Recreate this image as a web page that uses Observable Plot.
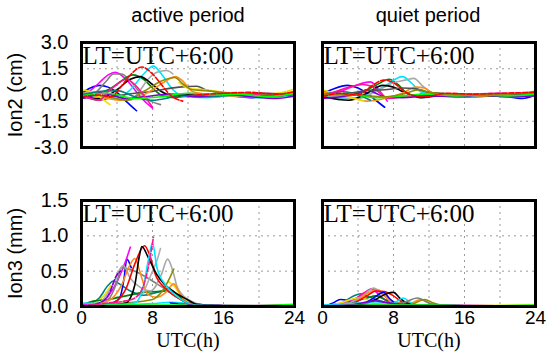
<!DOCTYPE html>
<html>
<head>
<meta charset="utf-8">
<script src="https://cdn.jsdelivr.net/npm/d3@7"></script>
<script src="https://cdn.jsdelivr.net/npm/@observablehq/plot@0.6"></script>
<style>
  html, body { margin: 0; padding: 0; background: #fff; }
  #wrap { position: relative; width: 550px; height: 353px; overflow: hidden; background: #fff; }
  .panel { position: absolute; }
  .ttl { position: absolute; font-family: "Liberation Sans", Arial, sans-serif; font-size: 20px; color: #000; transform: translateX(-50%); white-space: nowrap; }
</style>
</head>
<body>
<div id="wrap">
  <div class="ttl" style="left:188px; top:4px;">active period</div>
  <div class="ttl" style="left:428px; top:4px;">quiet period</div>
</div>
<script>
// ---- data (hour, value pairs; null value = gap) ----
const xTicks = [0, 8, 16, 24];
const xGrid = [4, 8, 12, 16, 20];
const ion2Ticks = [3, 1.5, 0, -1.5, -3];
const ion2Grid = [1.5, -1.5];
const ion3Ticks = [1.5, 1.0, 0.5, 0.0];
const ion3Grid = [0.5, 1.0];
const periods = ["active period", "quiet period"];
const zoneLabel = "LT=UTC+6:00";

const activeIon2 = [
  ["blue",       [0,0.1, 1,0.4, 2,0.55, 3,0.45, 4,0.15, 5,-0.35, 6.2,-0.9, 6.3,null, 11,-0.1, 13,-0.05, 16,0.0, 19,-0.15, 22,0.0, 24,0.1]],
  ["magenta",    [0,0.0, 1,0.25, 2,0.7, 3,1.15, 3.8,1.3, 5,0.9, 6,0.3, 7,-0.3, 8,-0.75, 8.1,null, 12,-0.1, 15,0.05, 18,-0.1, 21,0.1, 24,0.0]],
  ["gray",       [0,-0.2, 1.5,0.1, 2.8,0.8, 3.6,1.2, 4.5,1.2, 5.5,0.8, 6.5,0.2, 7.8,-0.35, 8.9,-0.55]],
  ["red",        [0,-0.1, 2,0.0, 3.3,-0.1, 4.5,0.5, 5.6,1.2, 6.8,1.6, 8,1.2, 9,0.6, 10,0.0, 11.4,-0.35, 11.5,null, 13,0.0, 16,0.1, 19,0.15, 22,0.05, 24,0.2]],
  ["green",      [0,0.2, 1.5,0.1, 3,0.3, 4.5,0.8, 5.8,1.15, 7,0.9, 8,0.4, 9,0.0, 10.5,-0.15, 12,0.0, 15,-0.1, 18,0.05, 21,-0.1, 24,0.0]],
  ["cyan",       [0,0.0, 2,-0.1, 4,-0.2, 5.5,0.3, 7,1.2, 8.1,1.65, 9,1.2, 10.3,0.3, 11.5,-0.05, 14,-0.15, 17,-0.05, 20,-0.15, 24,-0.1]],
  ["silver",     [0,0.1, 2,0.2, 4,-0.1, 5.5,-0.3, 6.5,0.2, 7.5,0.9, 8.5,1.3, 9.6,1.4, 10.3,1.2, 10.4,null, 13,0.0, 16,0.05, 20,-0.05, 24,0.05]],
  ["black",      [0,-0.1, 2,-0.2, 4,0.3, 5.5,0.9, 6.6,1.05, 8,0.6, 9,0.2, 10.4,-0.05, 12,0.05, 15,0.0, 18,0.1, 21,0.0, 24,0.05]],
  ["dimgray",    [0,0.0, 2,-0.3, 4,-0.05, 6,0.1, 8,0.2, 9,0.3, 11,0.45, 13,0.5, 14,0.3, 16,0.1, 19,0.0, 22,-0.05, 24,0.1]],
  ["darkorange", [0,0.1, 2,-0.1, 4.5,-0.3, 6.6,-0.1, 8,0.3, 9.5,0.8, 10.6,1.05, 11.3,0.85, 12.5,0.2, 14,0.05, 17,-0.05, 20,0.0, 24,0.15]],
  ["yellow",     [0,0.3, 1,0.2, 2,-0.1, 3.2,-0.55, 3.3,null, 11,0.7, 12.3,0.35, 14,0.3, 16,0.15, 19,0.05, 22,0.1, 24,0.35]],
  ["olive",      [0,0.1, 3,-0.1, 5,-0.3, 7,0.2, 9,0.8, 10.5,1.0, 11.5,0.6, 12.5,0.3, 14,0.25, 17,0.1, 20,0.0, 24,0.1]],
  ["teal",       [0,0.0, 2,0.2, 4,0.25, 6,-0.1, 8,-0.3, 9.5,-0.2, 11,0.0, 14,-0.1, 17,0.0, 20,0.1, 24,0.0]],
  ["darkviolet", [0,-0.2, 1,-0.1, 2,0.1, 3,0.05, 5,-0.2, 7,-0.1, 10,0.05, 13,-0.1, 16,0.05, 19,-0.1, 22,-0.2, 24,-0.05]],
  ["deeppink",   [0,0.0, 1,-0.2, 2,-0.3, 3,0.2, 4,0.6, 5,0.9, 6,0.6, 7,0.0, 8,-0.7, 8.1,null, 12,0.1, 15,0.0, 18,0.1, 21,-0.05, 24,0.0]],
  ["lime",       [0,-0.05, 3,0.1, 6,-0.2, 9,-0.1, 12,0.1, 15,0.0, 18,0.05, 21,-0.1, 24,0.1]]
];

const quietIon2 = [
  ["blue",       [0,0.1, 1,0.3, 2.8,0.55, 4,0.4, 5,0.1, 6,-0.3, 7,-0.7, 7.1,null, 11,-0.05, 14,0.0, 17,-0.1, 20,-0.05, 22.5,-0.2, 24,0.0]],
  ["magenta",    [0,0.0, 2,0.2, 3.5,0.5, 5.4,0.75, 6.5,0.2, 7.3,-0.35, 7.4,null, 11,0.05, 14,-0.05, 17,0.05, 20,0.1, 24,0.0]],
  ["red",        [0,-0.1, 2,0.1, 4,0.0, 5.5,0.5, 6.9,0.85, 8,0.7, 9,0.3, 10,0.0, 11.5,-0.1, 14,0.1, 17,0.05, 20,0.1, 24,0.15]],
  ["green",      [0,0.2, 2,0.0, 4,0.1, 6,0.55, 7.5,0.9, 8.5,0.6, 9.5,0.1, 10.5,-0.05, 13,0.0, 16,-0.1, 19,0.05, 22,-0.05, 24,0.0]],
  ["cyan",       [0,0.0, 3,-0.2, 5,0.0, 7,0.5, 9,1.05, 10,0.7, 11,0.2, 12.5,0.0, 15,-0.1, 18,-0.05, 21,-0.1, 24,-0.05]],
  ["silver",     [0,0.0, 4,-0.2, 6,0.2, 8,0.7, 9.3,0.85, 10.3,0.95, 11.3,0.5, 12.5,0.1, 15,0.0, 18,0.05, 21,0.0, 24,0.05]],
  ["black",      [0,-0.1, 3,-0.3, 5,0.1, 6.8,0.55, 8,0.45, 9,0.2, 10,0.0, 11,-0.15, 13,-0.05, 16,0.0, 19,-0.05, 22,0.05, 24,0.0]],
  ["darkorange", [0,0.15, 3,-0.1, 5,-0.35, 7,-0.2, 9,0.1, 10.5,0.45, 11.5,0.4, 12.5,0.1, 15,0.05, 18,-0.05, 21,0.05, 24,0.1]],
  ["yellow",     [0,0.3, 2,0.0, 3.5,-0.2, 4.6,-0.35, 4.7,null, 12,0.15, 14,0.05, 17,0.0, 20,0.05, 22,0.0, 24,0.25]],
  ["teal",       [0,0.0, 2,0.2, 3.5,0.1, 5.4,-0.3, 5.5,null, 11,0.0, 14,-0.05, 17,0.0, 20,0.05, 24,0.0]],
  ["deeppink",   [0,-0.1, 1.5,0.2, 3,0.45, 4.5,0.6, 5.5,0.5, 6.5,0.1, 7.5,-0.2, 9,-0.1, 12,0.0, 15,0.05, 18,0.0, 21,0.05, 24,0.05]],
  ["darkviolet", [0,-0.2, 2,-0.1, 4,0.1, 5,0.3, 6,0.1, 7,-0.1, 9,-0.15, 12,-0.05, 15,-0.1, 18,0.0, 21,-0.1, 24,-0.05]],
  ["dimgray",    [0,0.0, 3,0.1, 5,0.25, 7,0.3, 9,0.4, 10.5,0.35, 12,0.15, 15,0.05, 18,0.0, 21,0.05, 24,0.0]],
  ["lime",       [0,-0.05, 3,0.05, 6,-0.15, 9,-0.05, 12,0.05, 15,-0.05, 18,0.0, 21,-0.05, 24,0.05]],
  ["olive",      [0,0.05, 4,0.0, 7,-0.1, 9,0.05, 11,0.3, 12,0.15, 14,0.05, 18,0.0, 21,0.05, 24,0.2]]
];

const activeIon3 = [
  ["teal",       [0,0.0, 1,0.03, 2,0.12, 3,0.3, 3.6,0.36, 4.5,0.3, 5.5,0.22, 7,0.16, 8.5,0.2, 9.6,0.22, 10.5,0.15, 12,0.05, 14,0.01, 18,0.01, 24,0.01]],
  ["yellow",     [0,0.0, 1.5,0.05, 2.5,0.15, 3.3,0.3, 3.4,null, 9.8,0.35, 10.5,0.28, 11.2,0.15, 12.5,0.04, 15,0.01, 24,0.0]],
  ["cyan",       [0,0.02, 3,0.04, 6,0.03, 8,0.04, 10,0.06, 11.5,0.05, 13,0.02, 18,0.01, 24,0.01]],
  ["green",      [0,0.02, 1.5,0.08, 3,0.1, 5,0.15, 7,0.2, 9,0.22, 9.7,0.25, 10.5,0.2, 12,0.05, 16,0.01, 24,0.01]],
  ["blue",       [0,0.0, 2,0.02, 3.5,0.05, 4.3,0.12, 4.8,0.4, 5.1,0.67, 5.6,0.55, 5.7,null, 10,0.05, 13,0.02, 18,0.01, 24,0.02]],
  ["darkviolet", [0,0.0, 1,0.02, 2,0.05, 3,0.15, 4,0.45, 4.4,0.5, 4.5,null, 12,0.02, 18,0.01, 24,0.01]],
  ["magenta",    [0,0.02, 2,0.05, 3,0.15, 4,0.35, 5,0.65, 5.5,0.84, 5.6,null, 11,0.04, 14,0.01, 24,0.01]],
  ["gray",       [0,0.0, 3,0.1, 4,0.35, 4.5,0.55, 6,0.5, 7.5,0.4, 8.5,0.32, 10,0.2, 11.5,0.08, 13,0.02, 24,0.01]],
  ["silver",     [0,0.0, 2,0.05, 3.5,0.3, 4.7,0.58, 5.5,0.4, 6.5,0.28, 7.8,0.22, 9,0.45, 9.7,0.67, 10.3,0.5, 10.8,0.27, 12,0.1, 14,0.02, 24,0.01]],
  ["darkorange", [0,0.0, 3,0.08, 4.5,0.3, 5.5,0.6, 6,0.68, 6.8,0.4, 7.4,0.18, 8.5,0.13, 9.5,0.2, 10.4,0.32, 11,0.2, 12,0.05, 14,0.01, 24,0.0]],
  ["olive",      [0,0.0, 5,0.05, 8,0.1, 9,0.2, 10,0.42, 10.4,0.53]],
  ["darkgray",   [7,0.2, 8,0.5, 8.5,0.65, 8.9,0.82]],
  ["red",        [0,0.0, 2,0.02, 3,0.03, 4,0.08, 5,0.25, 6,0.6, 7.1,0.86, 7.7,0.72, 8.3,0.46, 9.5,0.25, 10.9,0.12, 12,0.05, 14,0.01, 18,0.01, 24,0.02]],
  ["black",      [0,0.0, 3,0.02, 5,0.05, 6,0.3, 6.5,0.7, 6.8,0.85, 7.5,0.7, 8.5,0.45, 9.3,0.32, 10.5,0.2, 11.9,0.1, 13,0.03, 16,0.01, 24,0.01]],
  ["cyan",       [0,0.05, 2,0.04, 4,0.03, 6,0.05, 7,0.3, 7.6,0.7, 8,0.9, 8.5,0.55, 9.5,0.3, 10.4,0.18, 11.5,0.08, 13,0.02, 16,0.01, 24,0.0]],
  ["deeppink",   [0,0.0, 3,0.05, 5,0.08, 6,0.12, 7,0.3, 7.6,0.6, 8.1,0.98]],
  ["lime",       [0,0.0, 4,0.02, 8,0.02, 12,0.02, 16,0.01, 20,0.01, 24,0.03]]
];

const quietIon3 = [
  ["blue",       [0,0.0, 1.2,0.05, 2,0.1, 3,0.08, 4,0.04, 5,0.02, 8,0.01, 12,0.01, 24,0.0]],
  ["teal",       [0,0.0, 2,0.04, 3.5,0.15, 4.3,0.18, 5,0.15, 6,0.1, 7.5,0.05, 10,0.02, 14,0.01, 24,0.0]],
  ["magenta",    [0,0.01, 1.5,0.03, 3,0.08, 4.5,0.16, 5.5,0.25, 6.5,0.15, 7.5,0.06, 10,0.02, 24,0.01]],
  ["deeppink",   [0,0.0, 3,0.05, 4.5,0.18, 5.5,0.24, 6.5,0.2, 7.5,0.1, 9,0.03, 13,0.01, 24,0.01]],
  ["green",      [0,0.01, 3,0.05, 5,0.12, 6,0.15, 7,0.1, 9,0.04, 12,0.01, 24,0.01]],
  ["yellow",     [0,0.0, 2,0.05, 4,0.12, 5,0.1, 6,0.04, 9,0.02, 12,0.01, 24,0.02]],
  ["silver",     [0,0.0, 3,0.05, 4.5,0.15, 5.8,0.26, 6.5,0.2, 7.5,0.1, 9,0.04, 12,0.01, 24,0.01]],
  ["darkorange", [0,0.0, 3,0.02, 5,0.18, 6.2,0.24, 7,0.15, 8,0.05, 10,0.05, 11,0.1, 12,0.05, 14,0.01, 24,0.0]],
  ["red",        [0,0.0, 3,0.03, 5,0.15, 6,0.22, 7,0.21, 8,0.15, 9,0.06, 10,0.02, 14,0.01, 24,0.0]],
  ["blue",       [3,0.0, 4.5,0.03, 5.5,0.1, 6.9,0.2, 7.5,0.12, 8.5,0.03, 11,0.01, 24,0.01]],
  ["black",      [0,0.0, 4,0.02, 6,0.1, 7.2,0.18, 8,0.2, 8.7,0.12, 9.5,0.05, 11,0.02, 16,0.01, 24,0.0]],
  ["cyan",       [0,0.02, 2,0.03, 4,0.05, 6,0.05, 8,0.05, 9.1,0.12, 10,0.05, 11,0.02, 16,0.01, 24,0.01]],
  ["gray",       [0,0.0, 6,0.02, 9,0.05, 10.7,0.12, 12,0.05, 13,0.01, 24,0.01]],
  ["olive",      [0,0.0, 8,0.02, 10,0.03, 11.5,0.1, 12.5,0.05, 14,0.01, 24,0.01]],
  ["darkviolet", [0,0.01, 3,0.02, 6,0.08, 7,0.06, 10,0.02, 24,0.01]],
  ["lime",       [0,0.0, 6,0.02, 12,0.02, 18,0.01, 24,0.02]]
];

// series drawn dashed (panel:colour)
const dashedSeries = ["a2:red", "a3:deeppink", "q2:red", "a3:darkviolet"];

// ---- styling ----
const palette = {
  blue: "#0000ff", magenta: "#ff00ff", red: "#ff0000", green: "#008000", cyan: "#00e5ff",
  silver: "#a8a8a8", gray: "#808080", black: "#000000", dimgray: "#505050", darkgray: "#b0b0b0",
  darkorange: "#ff8c1a", yellow: "#f0e000", olive: "#8c8c00", teal: "#008080",
  darkviolet: "#7b00d6", deeppink: "#ff1493", lime: "#00ff00"
};

function toRows(series, key) {
  const out = [];
  series.forEach(([name, flat], i) => {
    for (let k = 0; k < flat.length; k += 2) {
      out.push({s: key + i, c: palette[name], dashed: dashedSeries.includes(key + ":" + name), h: flat[k], v: flat[k + 1]});
    }
  });
  return out;
}

const sans = "'Liberation Sans', Arial, sans-serif";
const serif = "'Liberation Serif', 'Times New Roman', serif";

function panel({series, key, yDomain, yTicks, yGrid, yLabel, left, bottom}) {
  const rows = toRows(series, key);
  const isLeft = left;
  const W = isLeft ? 300 : 250;
  const H = bottom ? 193 : 160;
  const marks = [
    Plot.gridX(xGrid, {stroke: "#9a9a9a", strokeOpacity: 1, strokeDasharray: "2,4", strokeWidth: 1}),
    Plot.gridY(yGrid, {stroke: "#9a9a9a", strokeOpacity: 1, strokeDasharray: "2,4", strokeWidth: 1}),
    Plot.line(rows.filter(d => !d.dashed), {x: "h", y: "v", z: "s", stroke: "c", strokeWidth: 1.6, curve: "monotone-x", clip: true}),
    Plot.line(rows.filter(d => d.dashed), {x: "h", y: "v", z: "s", stroke: "c", strokeWidth: 1.6, strokeDasharray: "5,2", curve: "monotone-x", clip: true}),
    Plot.text([zoneLabel], {frameAnchor: "top-left", textAnchor: "start", lineAnchor: "top", dx: 1, dy: 4, fontFamily: serif, fontSize: 25, fill: "#000"}),
    Plot.frame({stroke: "#000", strokeWidth: 3})
  ];
  if (isLeft) {
    marks.push(Plot.axisY(yTicks, {tickSize: 0, tickPadding: 13, tickFormat: d => d.toFixed(1), fontSize: 20,
      label: yLabel, labelAnchor: "center", labelArrow: "none", labelOffset: 74}));
  }
  if (bottom) {
    marks.push(Plot.axisX(xTicks, {tickSize: 0, tickPadding: 4, fontSize: 19, label: null}));
    marks.push(Plot.text(["UTC(h)"], {frameAnchor: "bottom", textAnchor: "middle", lineAnchor: "middle", dy: 34, fontFamily: serif, fontSize: 20, fill: "#000"}));
  }
  const chart = Plot.plot({
    width: W, height: H,
    marginLeft: isLeft ? 81 : 22,
    marginRight: isLeft ? 6 : 15,
    marginTop: bottom ? 40 : 42,
    marginBottom: bottom ? 47 : 13,
    style: {fontFamily: sans, fontSize: "20px", color: "#000", background: "transparent", overflow: "visible"},
    x: {domain: [0, 24], axis: null},
    y: {domain: yDomain, axis: null},
    color: {type: "identity"},
    marks
  });
  chart.classList.add("panel");
  chart.style.left = (isLeft ? 0 : 300) + "px";
  chart.style.top = (bottom ? 160 : 0) + "px";
  document.getElementById("wrap").appendChild(chart);
}

panel({series: activeIon2, key: "a2", yDomain: [-3, 3], yTicks: ion2Ticks, yGrid: ion2Grid, yLabel: "Ion2 (cm)", left: true, bottom: false});
panel({series: quietIon2, key: "q2", yDomain: [-3, 3], yTicks: ion2Ticks, yGrid: ion2Grid, yLabel: "Ion2 (cm)", left: false, bottom: false});
panel({series: activeIon3, key: "a3", yDomain: [0, 1.5], yTicks: ion3Ticks, yGrid: ion3Grid, yLabel: "Ion3 (mm)", left: true, bottom: true});
panel({series: quietIon3, key: "q3", yDomain: [0, 1.5], yTicks: ion3Ticks, yGrid: ion3Grid, yLabel: "Ion3 (mm)", left: false, bottom: true});
</script>
</body>
</html>
